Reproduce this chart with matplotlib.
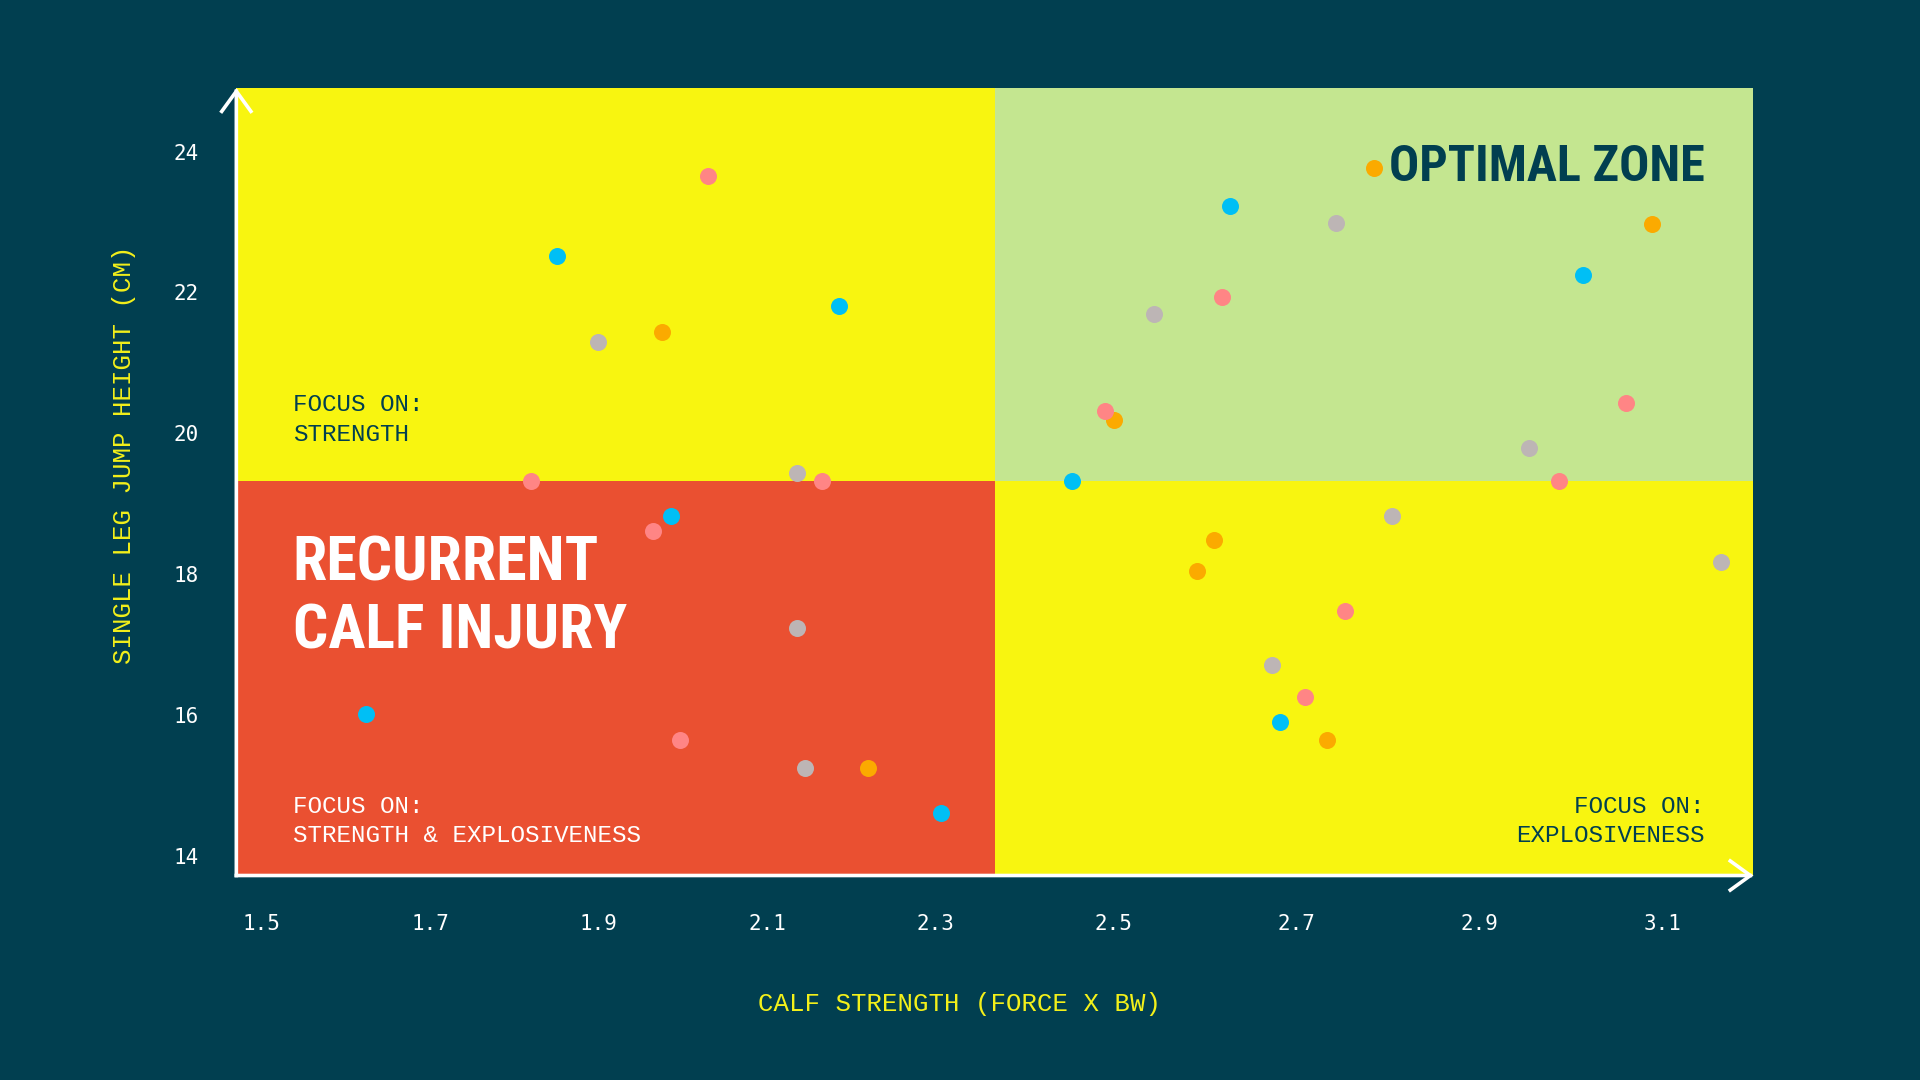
import numpy as np
import matplotlib
matplotlib.use("Agg")
import matplotlib.pyplot as plt
from matplotlib.patches import FancyArrowPatch, Rectangle
from matplotlib import font_manager as fm

# ---------------- data ----------------
blue_x = [1.851, 2.185, 1.986, 1.624, 2.306, 2.627, 3.014, 2.454, 2.682]
blue_y = [22.52, 21.81, 18.82, 16.02, 14.61, 23.23, 22.24, 19.32, 15.90]
pink_x = [2.030, 1.820, 2.165, 1.964, 1.996, 2.618, 2.490, 3.061, 2.987, 2.753, 2.709]
pink_y = [23.65, 19.32, 19.32, 18.61, 15.65, 21.93, 20.31, 20.43, 19.32, 17.48, 16.26]
orange_x = [1.975, 2.219, 2.785, 3.089, 2.500, 2.610, 2.591, 2.733]
orange_y = [21.44, 15.25, 23.77, 22.97, 20.19, 18.49, 18.05, 15.65]
gray_x = [1.899, 2.135, 2.135, 2.145, 2.743, 2.544, 2.954, 2.804, 3.165, 2.673]
gray_y = [21.30, 19.44, 17.23, 15.25, 22.99, 21.69, 19.79, 18.82, 18.17, 16.71]

x_ticks = [1.5, 1.7, 1.9, 2.1, 2.3, 2.5, 2.7, 2.9, 3.1]
x_tick_labels = ["1.5", "1.7", "1.9", "2.1", "2.3", "2.5", "2.7", "2.9", "3.1"]
y_ticks = [14, 16, 18, 20, 22, 24]
y_tick_labels = ["14", "16", "18", "20", "22", "24"]

x_split = 2.37     # calf strength threshold
y_split = 19.32    # jump height threshold
x_min, x_max = 1.47, 3.2
y_min, y_max = 13.72, 24.90

x_label = "CALF STRENGTH (FORCE X BW)"
y_label = "SINGLE LEG JUMP HEIGHT (CM)"

# ---------------- style ----------------
BG = "#013F50"
DARK = "#013F50"
YELLOW = "#F8F510"
GREEN = "#C4E690"
RED = "#EA5031"
C_BLUE = "#00BFF5"
C_PINK = "#FF8585"
C_ORANGE = "#FBAA00"
C_GRAY = "#BDB5B5"
LABEL_YELLOW = "#F3F01A"

avail = {f.name for f in fm.fontManager.ttflist}
def pick(cands, default="DejaVu Sans"):
    for c in cands:
        if c in avail:
            return c
    return default

COND = pick(["Roboto Condensed", "Liberation Sans Narrow", "Open Sans Condensed", "DejaVu Sans"])
MONO = pick(["Liberation Mono", "DejaVu Sans Mono"], "monospace")
TICKMONO = pick(["DejaVu Sans Mono", "Liberation Mono"], "monospace")

fig = plt.figure(figsize=(19.2, 10.8), dpi=100, facecolor=BG)
ax = fig.add_axes([0.12309, 0.18934, 0.79018, 0.72903])
ax.set_facecolor(BG)

def fwd(x):
    x = np.asarray(x, float)
    return np.where(x < x_split, (x - x_min) / (x_split - x_min) * 0.5,
                    0.5 + (x - x_split) / (x_max - x_split) * 0.5)

def inv(u):
    u = np.asarray(u, float)
    return np.where(u < 0.5, x_min + u * 2 * (x_split - x_min),
                    x_split + (u - 0.5) * 2 * (x_max - x_split))

ax.set_xscale("function", functions=(fwd, inv))
ax.set_xlim(x_min, x_max)
ax.set_ylim(y_min, y_max)

# quadrants
ax.add_patch(Rectangle((x_min, y_split), x_split - x_min, y_max - y_split, color=YELLOW, lw=0, zorder=0))
ax.add_patch(Rectangle((x_split, y_split), x_max - x_split, y_max - y_split, color=GREEN, lw=0, zorder=0))
ax.add_patch(Rectangle((x_min, y_min), x_split - x_min, y_split - y_min, color=RED, lw=0, zorder=0))
ax.add_patch(Rectangle((x_split, y_min), x_max - x_split, y_split - y_min, color=YELLOW, lw=0, zorder=0))

# points
S = 150
ax.scatter(gray_x, gray_y, s=S, color=C_GRAY, lw=0, zorder=3)
ax.scatter(orange_x, orange_y, s=S, color=C_ORANGE, lw=0, zorder=3)
ax.scatter(blue_x, blue_y, s=S, color=C_BLUE, lw=0, zorder=3)
ax.scatter(pink_x, pink_y, s=S, color=C_PINK, lw=0, zorder=3)

for sp in ax.spines.values():
    sp.set_visible(False)

ax.set_xticks(x_ticks)
ax.set_xticklabels(x_tick_labels)
ax.set_yticks(y_ticks)
ax.set_yticklabels(y_tick_labels)
ax.tick_params(axis="both", length=0, colors="white", labelsize=15)
ax.tick_params(axis="x", pad=28)
ax.tick_params(axis="y", pad=27)
for lab in ax.get_xticklabels() + ax.get_yticklabels():
    lab.set_fontfamily(TICKMONO)
ax.minorticks_off()

# axis arrows
style = "->,head_length=1.45,head_width=1.05"
for start, end in [((0, 0), (0, 1)), ((0, 0), (1, 0))]:
    arr = FancyArrowPatch(start, end, transform=ax.transAxes, arrowstyle=style,
                          mutation_scale=10, color="white", lw=2.6,
                          shrinkA=0, shrinkB=0, clip_on=False, zorder=5,
                          capstyle="projecting", joinstyle="miter")
    ax.add_patch(arr)

# axis labels
fig.text(0.5, 0.0703, x_label, color=LABEL_YELLOW, fontsize=18.5, family=MONO,
         ha="center", va="center")
fig.text(0.0644, 0.5788, y_label, color=LABEL_YELLOW, fontsize=18.5, family=MONO,
         ha="center", va="center", rotation=90)

# focus labels
fs_focus = 17.5
ax.text(0.0371, 0.5894, "FOCUS ON:", transform=ax.transAxes, color=DARK, fontsize=fs_focus,
        family=MONO, ha="left", va="baseline", zorder=4)
ax.text(0.0371, 0.5521, "STRENGTH", transform=ax.transAxes, color=DARK, fontsize=fs_focus,
        family=MONO, ha="left", va="baseline", zorder=4)
ax.text(0.0371, 0.0793, "FOCUS ON:", transform=ax.transAxes, color="white", fontsize=fs_focus,
        family=MONO, ha="left", va="baseline", zorder=4)
ax.text(0.0371, 0.0420, "STRENGTH & EXPLOSIVENESS", transform=ax.transAxes, color="white",
        fontsize=fs_focus, family=MONO, ha="left", va="baseline", zorder=4)
ax.text(0.9677, 0.0793, "FOCUS ON:", transform=ax.transAxes, color=DARK, fontsize=fs_focus,
        family=MONO, ha="right", va="baseline", zorder=4)
ax.text(0.9677, 0.0420, "EXPLOSIVENESS", transform=ax.transAxes, color=DARK, fontsize=fs_focus,
        family=MONO, ha="right", va="baseline", zorder=4)

# big headings
t_opt = ax.text(0.9677, 0.8818, "OPTIMAL ZONE", transform=ax.transAxes, color=DARK,
                fontsize=53, family=COND, fontweight="bold", fontstretch="condensed",
                ha="right", va="baseline", zorder=4)
t_r1 = ax.text(0.0371, 0.3748, "RECURRENT", transform=ax.transAxes, color="white",
               fontsize=50, family=COND, fontweight="bold", fontstretch="condensed",
               ha="left", va="baseline", zorder=4)
t_r2 = ax.text(0.0371, 0.2877, "CALF INJURY", transform=ax.transAxes, color="white",
               fontsize=50, family=COND, fontweight="bold", fontstretch="condensed",
               ha="left", va="baseline", zorder=4)

fig.canvas.draw()
r = fig.canvas.get_renderer()
w = t_opt.get_window_extent(renderer=r).width
t_opt.set_fontsize(min(53, 53 * 310 / w * 1.02))
w2 = t_r2.get_window_extent(renderer=r).width
fs2 = min(50, 50 * 268 / w2 * 1.25)
t_r1.set_fontsize(fs2)
t_r2.set_fontsize(fs2)

fig.savefig("out.png", dpi=100, facecolor=BG)
